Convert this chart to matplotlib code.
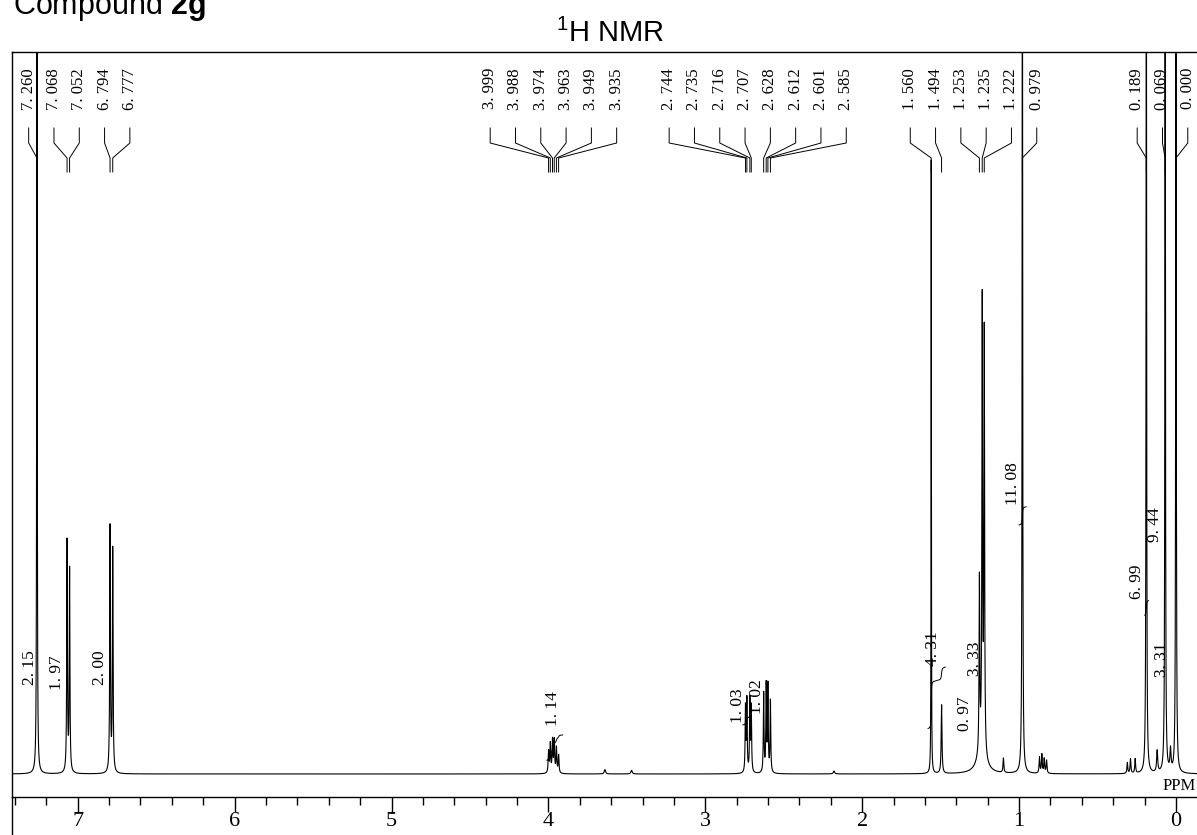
import numpy as np
import matplotlib.pyplot as plt
from matplotlib.lines import Line2D
from matplotlib.ticker import MultipleLocator

plt.rcParams['mathtext.fontset'] = 'custom'
plt.rcParams['mathtext.rm'] = 'Liberation Sans'
plt.rcParams['mathtext.bf'] = 'Liberation Sans:bold'

# picked peaks (ppm) printed above the spectrum
peak_labels = [7.260, 7.068, 7.052, 6.794, 6.777,
               3.999, 3.988, 3.974, 3.963, 3.949, 3.935,
               2.744, 2.735, 2.716, 2.707, 2.628, 2.612, 2.601, 2.585,
               1.560, 1.494, 1.253, 1.235, 1.222, 0.979,
               0.189, 0.069, 0.000]

# spectral lines: position (ppm), height (relative), half width (ppm)
line_ppm = [7.260, 7.068, 7.052, 6.794, 6.777,
            3.999, 3.988, 3.974, 3.963, 3.949, 3.935,
            2.744, 2.735, 2.716, 2.707, 2.628, 2.612, 2.601, 2.585,
            1.560, 1.494, 1.253, 1.235, 1.222, 1.240, 0.979,
            0.189, 0.069, 0.000,
            3.640, 3.470, 2.180, 1.100, 0.870, 0.855, 0.840, 0.825,
            0.310, 0.290, 0.260, 0.120, 0.035]
line_height = [1.30, 0.32, 0.28, 0.34, 0.31,
               0.030, 0.040, 0.045, 0.045, 0.035, 0.025,
               0.090, 0.100, 0.100, 0.090, 0.110, 0.120, 0.120, 0.100,
               0.85, 0.095, 0.24, 0.62, 0.58, 0.030, 1.30,
               1.30, 1.30, 1.30,
               0.006, 0.005, 0.004, 0.020, 0.022, 0.026, 0.020, 0.018,
               0.015, 0.020, 0.020, 0.030, 0.030]
line_width = [0.0018, 0.0025, 0.0025, 0.0025, 0.0025,
              0.003, 0.003, 0.003, 0.003, 0.003, 0.003,
              0.0025, 0.0025, 0.0025, 0.0025, 0.0025, 0.0025, 0.0025, 0.0025,
              0.0012, 0.003, 0.0025, 0.0025, 0.0025, 0.03, 0.002,
              0.002, 0.002, 0.002,
              0.005, 0.005, 0.005, 0.003, 0.003, 0.003, 0.003, 0.003,
              0.003, 0.003, 0.003, 0.004, 0.004]

# integrals: value, label position (ppm), label level
integral_values = [2.15, 1.97, 2.00, 1.14, 1.03, 1.02, 4.31, 0.97, 3.33, 11.08, 6.99, 9.44, 3.31]
integral_label_ppm = [7.304, 7.132, 6.858, 3.971, 2.792, 2.670, 1.549, 1.345, 1.281, 1.039, 0.249, 0.134, 0.089]
integral_label_level = [0.147, 0.140, 0.147, 0.091, 0.094, 0.107, 0.173, 0.084, 0.159, 0.402, 0.266, 0.345, 0.158]

# visible pieces of integral traces: ppm range and start/end level
trace_lo = [3.91, 2.70, 1.47, 0.955, 0.175]
trace_hi = [4.01, 2.76, 1.58, 1.000, 0.200]
trace_start = [0.019, 0.068, 0.063, 0.345, 0.220]
trace_end = [0.054, 0.088, 0.148, 0.370, 0.240]

x = np.linspace(7.45, -0.15, 19001)
y = np.zeros_like(x)
for p, h, w in zip(line_ppm, line_height, line_width):
    y += h / (1 + ((x - p) / w) ** 2)

fig = plt.figure(figsize=(11.97, 8.35), dpi=100)
W, H = 1197, 835
ax = fig.add_axes([12 / W, 1 - 797 / H, 1185 / W, 745 / H])
ax.plot(x, y, color='black', lw=0.8)

for lo, hi, s, e in zip(trace_lo, trace_hi, trace_start, trace_end):
    m = (x <= hi) & (x >= lo)
    c = np.cumsum(y[m])
    c = (c - c[0]) / (c[-1] - c[0])
    ax.plot(x[m], s + (e - s) * c, color='black', lw=0.7)

ax.set_xlim(7.419, -0.134)
ax.set_ylim(-0.0319, 1.0)
ax.set_yticks([])
ax.xaxis.set_major_locator(MultipleLocator(1))
ax.xaxis.set_minor_locator(MultipleLocator(0.2))
ax.tick_params(axis='x', which='major', direction='out', length=10.8, width=1.0,
               labelsize=16, pad=0)
ax.tick_params(axis='x', which='minor', direction='out', length=5.8, width=1.0)
for t in ax.get_xticklabels():
    t.set_fontfamily('Liberation Serif')
ax.spines['right'].set_visible(False)
for s in ['top', 'left', 'bottom']:
    ax.spines[s].set_linewidth(1.0)
fig.add_artist(Line2D([12 / W, 12 / W], [0, 1 - 797 / H], color='black', lw=1.0))

ax.text(0.083, -0.0166, 'PPM', ha='left', va='center', fontsize=12,
        family='Liberation Serif')

# spread peak labels so they don't overlap
ppm_per_px = 1 / 156.9
d = 25.3 * ppm_per_px
u = sorted(-p for p in peak_labels)
clusters = [[v] for v in u]
merged = True
while merged:
    merged = False
    for i in range(len(clusters) - 1):
        a, b = clusters[i], clusters[i + 1]
        a_last = np.mean(a) + (len(a) - 1) / 2 * d
        b_first = np.mean(b) - (len(b) - 1) / 2 * d
        if b_first - a_last < d:
            clusters[i] = a + b
            del clusters[i + 1]
            merged = True
            break
label_pos = []
for c in clusters:
    n = len(c)
    label_pos += list(np.mean(c) + (np.arange(n) - (n - 1) / 2) * d)

tr = ax.get_xaxis_transform()
def fy(py):
    return (797 - py) / 745

for p, lp in zip(sorted(peak_labels, reverse=True), label_pos):
    xl = -lp
    txt = f'{p:.3f}'.replace('.', '. ')
    ax.text(xl, fy(68), txt, transform=tr, rotation=90, ha='center', va='top',
            fontsize=12, family='Liberation Serif')
    ax.plot([xl, xl, p, p], [fy(128), fy(143), fy(158), fy(172)],
            transform=tr, color='black', lw=0.7, clip_on=False)

for v, lp, lv in zip(integral_values, integral_label_ppm, integral_label_level):
    txt = f'{v:.2f}'.replace('.', '. ')
    ax.text(lp, lv, txt, rotation=90, ha='center', va='center', fontsize=12.5,
            family='Liberation Serif')

fig.text(13 / W, 1 - 14 / H, r'Compound $\mathbf{2g}$', ha='left', va='baseline',
         fontsize=22, family='Liberation Sans')
fig.text(610 / W, 1 - 42 / H, r'$^{1}$H NMR', ha='center', va='baseline',
         fontsize=21, family='Liberation Sans')

fig.savefig('out.png', dpi=100)
